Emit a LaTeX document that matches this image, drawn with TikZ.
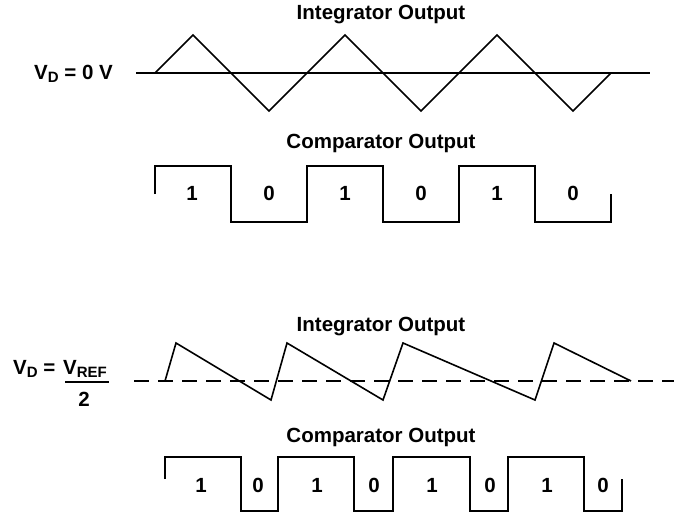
\documentclass[tikz,border=0pt]{standalone}
\usepackage{fontspec}
\setmainfont{Liberation Sans}
\usepackage{tikz}

\newcommand{\sub}[1]{\raisebox{-3pt}{\fontsize{15}{15}\selectfont #1}}

\tikzset{
  lbl/.style={font=\fontsize{20.5}{22}\selectfont\bfseries, inner sep=0pt},
  wave/.style={line width=1.6pt, line join=miter},
  ref/.style={line width=1.3pt, dash pattern=on 15pt off 9pt}
}

\begin{document}
\begin{tikzpicture}[x=1pt,y=-1pt]

  \useasboundingbox (0,0) rectangle (674,514);

  % titles
  \node[lbl] (intA) at (381,15) {Integrator Output};
  \node[lbl] (cmpA) at (381,143) {Comparator Output};
  \node[lbl] (intB) at (381,327) {Integrator Output};
  \node[lbl] (cmpB) at (381,437) {Comparator Output};

  % levels
  \node[lbl, anchor=base west] (vdA) at (34,79) {V\sub{D} = 0 V};
  \node[lbl, anchor=base west] (vdB) at (13,374) {V\sub{D} =};
  \node[lbl, anchor=base west] (vref) at (63,374) {V\sub{REF}};
  \node[lbl, anchor=base] (two) at (84,406) {2};
  \draw[line width=1.3pt] (65,382) -- (109,382);

  % integrator, upper case
  \draw[wave] (136,73) -- (650,73);
  \draw[wave] (155,73) -- (193,35) -- (269,111) -- (345,35) -- (421,111)
    -- (497,35) -- (573,111) -- (611,73);

  % comparator, upper case
  \draw[wave] (155,194) -- (155,166) -- (231,166) -- (231,222) -- (307,222)
    -- (307,166) -- (383,166) -- (383,222) -- (459,222) -- (459,166)
    -- (535,166) -- (535,222) -- (611,222) -- (611,194);

  \node[lbl] (bA1) at (192,193) {1};
  \node[lbl] (bA2) at (269,193) {0};
  \node[lbl] (bA3) at (345,193) {1};
  \node[lbl] (bA4) at (421,193) {0};
  \node[lbl] (bA5) at (497,193) {1};
  \node[lbl] (bA6) at (573,193) {0};

  % integrator, lower case
  \draw[ref] (134,381) -- (674,381);
  \draw[wave] (165,381) -- (176,343) -- (271,400) -- (287,343) -- (383,400)
    -- (403,343) -- (535,400) -- (554,343) -- (631,381);

  % comparator, lower case
  \draw[wave] (165,479) -- (165,457) -- (241,457) -- (241,511) -- (278,511)
    -- (278,457) -- (354,457) -- (354,511) -- (393,511) -- (393,457)
    -- (470,457) -- (470,511) -- (508,511) -- (508,457) -- (584,457)
    -- (584,511) -- (622,511) -- (622,479);

  \node[lbl] (bB1) at (201,485) {1};
  \node[lbl] (bB2) at (258,485) {0};
  \node[lbl] (bB3) at (317,485) {1};
  \node[lbl] (bB4) at (374,485) {0};
  \node[lbl] (bB5) at (432,485) {1};
  \node[lbl] (bB6) at (490,485) {0};
  \node[lbl] (bB7) at (547,485) {1};
  \node[lbl] (bB8) at (603,485) {0};

\end{tikzpicture}
\end{document}
